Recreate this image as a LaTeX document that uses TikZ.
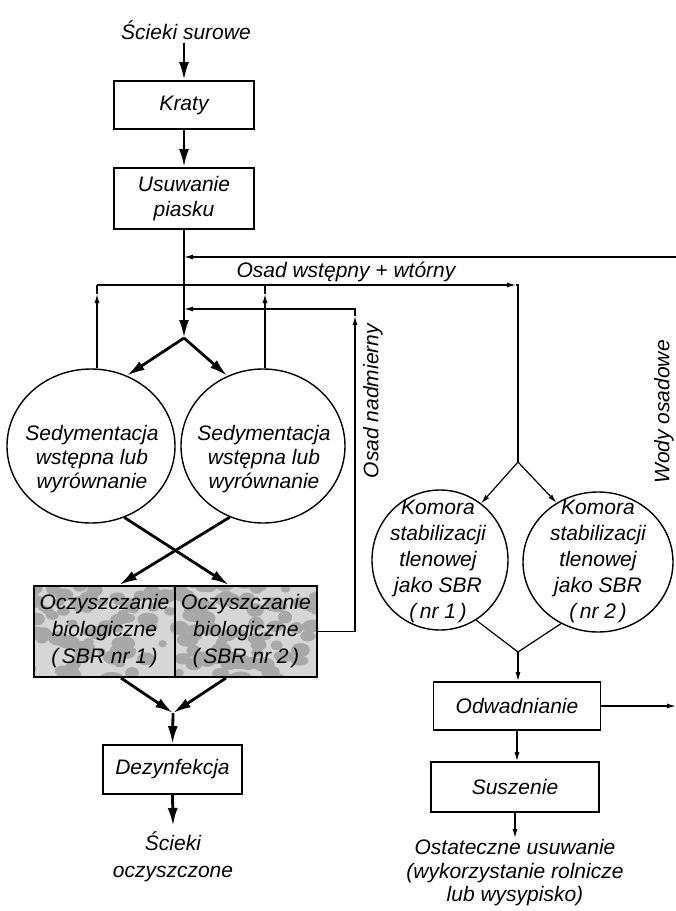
\documentclass[tikz,border=0pt]{standalone}
\usepackage{fontspec}
\setmainfont{Liberation Sans}
\usetikzlibrary{arrows.meta,shapes.geometric,calc}
\begin{document}
\begin{tikzpicture}[x=1pt,y=-1pt,
  font=\fontsize{21}{24}\selectfont\itshape,
  box/.style={draw,line width=1.8pt,inner sep=0pt,align=center},
  ell/.style={ellipse,draw,line width=1.4pt,inner sep=0pt},
  txt/.style={align=center,inner sep=0pt},
  mainarr/.style={line width=2.8pt,-{Latex[length=18pt,width=10pt]}},
  mainln/.style={line width=2.8pt},
  slimln/.style={line width=1.2pt},
  slimarr/.style={line width=1.2pt,-{Latex[length=9pt,width=5pt]}},
]
\useasboundingbox (0,0) rectangle (676,911);
\fill[white] (0,0) rectangle (676,911);

% ---------- left column ----------
\node[txt] (src) at (186,30) {Ścieki surowe};
\node[box,minimum width=140pt,minimum height=48pt] (kraty) at (184,105) {Kraty};
\node[box,minimum width=140pt,minimum height=61pt,font=\fontsize{21}{25}\selectfont\itshape] (piasek) at (184,198.5) {Usuwanie\\piasku};
\coordinate (split) at (184,338);

\node[ell,minimum width=168pt,minimum height=154pt] (L) at (91,446) {};
\node[ell,minimum width=164pt,minimum height=154pt] (R) at (263,446) {};
\node[txt] (Ltxt) at (92,459) {Sedymentacja\\wstępna lub\\wyrównanie};
\node[txt] (Rtxt) at (264,459) {Sedymentacja\\wstępna lub\\wyrównanie};

% biological reactors with mottled texture
\begin{scope}
  \clip (34,586) rectangle (317,677);
  \fill[gray!32] (34,586) rectangle (317,677);
  \pgfmathsetseed{11}
  \foreach \i in {1,...,170}{
    \pgfmathsetmacro\bx{30+291*rnd}
    \pgfmathsetmacro\by{582+99*rnd}
    \pgfmathsetmacro\bry{3.5+4*rnd}
    \pgfmathsetmacro\brx{\bry*(1.1+0.7*rnd)}
    \fill[gray!68] (\bx,\by) ellipse [x radius=\brx pt, y radius=\bry pt];
  }
\end{scope}
\node[box,line width=2pt,minimum width=141pt,minimum height=91pt,font=\fontsize{21}{27}\selectfont\itshape] (S1) at (104.5,631.5) {Oczyszczanie\\biologiczne\\(\,SBR nr 1\,)};
\node[box,line width=2pt,minimum width=142pt,minimum height=91pt,font=\fontsize{21}{27}\selectfont\itshape] (S2) at (246,631.5) {Oczyszczanie\\biologiczne\\(\,SBR nr 2\,)};

\coordinate (conv) at (173,713);
\node[box,minimum width=139pt,minimum height=49pt] (dez) at (172.5,769.5) {Dezynfekcja};
\coordinate (outp) at (173,826);
\node[txt,font=\fontsize{21}{27}\selectfont\itshape] (out) at (173,857) {Ścieki\\oczyszczone};

% ---------- right column ----------
\coordinate (A) at (518,462);
\node[ell,minimum width=136pt,minimum height=140pt] (K1) at (440,560) {};
\node[ell,minimum width=150pt,minimum height=140pt] (K2) at (598,562) {};
\node[txt,font=\fontsize{21}{26}\selectfont\itshape] (K1t) at (438,561) {Komora\\stabilizacji\\tlenowej\\jako SBR\\(\,nr 1\,)};
\node[txt,font=\fontsize{21}{26}\selectfont\itshape] (K2t) at (598,561) {Komora\\stabilizacji\\tlenowej\\jako SBR\\(\,nr 2\,)};
\coordinate (B) at (518,652);
\node[box,minimum width=167pt,minimum height=48pt] (odw) at (517,706) {Odwadnianie};
\node[box,minimum width=168pt,minimum height=50pt] (susz) at (515,787) {Suszenie};
\coordinate (fin) at (515,838);
\node[txt,font=\fontsize{21}{23.5}\selectfont\itshape] (final) at (515,873) {Ostateczne usuwanie\\(wykorzystanie rolnicze\\lub wysypisko)};

% helper coordinates
\coordinate (lx) at (97,0);
\coordinate (rx) at (265,0);
\coordinate (nx) at (355,0);
\coordinate (edge) at (676,0);

% labels
\node[txt] (lab1) at (346,272) {Osad wstępny + wtórny};
\node[txt,rotate=90] (lab2) at (373,401) {Osad nadmierny};
\node[txt,rotate=90] (lab3) at (664,412) {Wody osadowe};

% ---------- main flow ----------
\draw[mainarr] (src.south) ++(-2,3) -- (kraty.north);
\draw[mainarr] (kraty) -- (piasek);
\draw[mainarr] (piasek.south) -- (split);
\draw[mainarr] (split) -- (L.63);
\draw[mainarr] (split) -- (R.117);
\draw[mainarr] (L.-65) -- ([xshift=55pt]S2.north west);
\draw[mainarr] (R.-115) -- ([xshift=86pt]S1.north west);
\draw[mainarr] ([xshift=88pt]S1.south west) -- (conv);
\draw[mainarr] ([xshift=52pt]S2.south west) -- (conv);
\draw[mainarr] (conv) -- (dez.north);
\draw[mainarr] (dez.south) -- (outp);

% ---------- sludge lines ----------
% primary + secondary sludge
\draw[slimarr] (L.north -| lx) -- (97,294);
\draw[slimln] (97,294) -- (97,285);
\draw[slimarr] (R.north -| rx) -- (265,294);
\draw[slimln] (265,294) -- (265,285);
\draw[slimarr] (97,285) -- (516,285);
\draw[slimln] (516,285) -- (518,285) -- (A);
% excess sludge
\draw[slimln] (S2.east) -- (S2.east -| nx) -- (355,322);
\draw[slimarr] (355,330) -- (355,316);
\draw[slimarr] (355,316) -- (355,309) -- (split |- 0,309);
% sludge water
\draw[slimarr] (edge |- 0,257) -- (split |- 0,257);
\draw[slimarr] (odw.east) -- (odw.east -| edge);

% sludge stabilization
\draw[slimarr] (A) -- (K1.54);
\draw[slimarr] (A) -- (K2.125);
\draw[slimln] (K1.-59) -- (B) -- (K2.-121);
\draw[slimarr] (B) -- (B |- odw.north);
\draw[slimarr] (odw.south) -- (odw.south |- susz.north);
\draw[slimarr] (susz.south) -- (fin);
\end{tikzpicture}
\end{document}
